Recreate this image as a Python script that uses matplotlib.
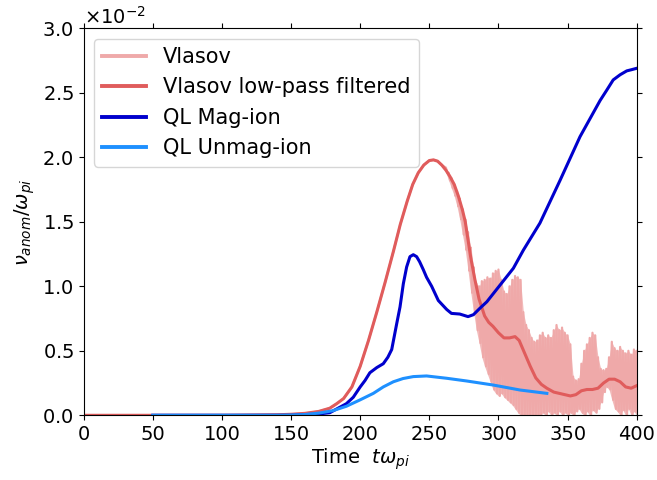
import numpy as np
import matplotlib
matplotlib.use("Agg")
import matplotlib.pyplot as plt

# filtered Vlasov collision rate (units of omega_pi)
t_filt = [0, 100, 140, 150, 160, 170, 178, 183, 188, 194, 200, 206, 212, 218,
          224, 229, 234, 238, 242, 246, 250, 253, 256, 259, 262, 265, 268, 271,
          274, 276, 278, 280, 283, 286, 290, 293, 296, 300, 304, 308, 312, 315,
          319, 323, 327, 331, 335, 340, 344, 348, 352, 356, 360, 364, 368, 372,
          376, 380, 384, 388, 392, 396, 400]
nu_filt = [0.0, 0.0, 0.004, 0.008, 0.015, 0.03, 0.055, 0.09, 0.13, 0.22, 0.38,
           0.58, 0.80, 1.03, 1.27, 1.48, 1.66, 1.79, 1.88, 1.94, 1.975, 1.98,
           1.97, 1.94, 1.90, 1.85, 1.79, 1.70, 1.59, 1.50, 1.36, 1.22, 1.05,
           0.90, 0.77, 0.72, 0.69, 0.64, 0.60, 0.60, 0.61, 0.58, 0.48, 0.38,
           0.29, 0.24, 0.21, 0.18, 0.17, 0.16, 0.15, 0.16, 0.19, 0.20, 0.20,
           0.21, 0.25, 0.28, 0.28, 0.26, 0.22, 0.21, 0.23]

# raw Vlasov oscillation extremes after saturation
t_raw = np.arange(262, 401, 2)
raw_hi = [1.92, 1.88, 1.84, 1.79, 1.74, 1.68, 1.60, 1.52, 1.42, 1.30,
          1.15, 1.02, 1.00, 1.04, 1.05, 1.07, 1.06, 1.10, 1.12, 1.13,
          1.05, 0.96, 0.94, 1.00, 1.05, 1.08, 1.07, 1.05, 0.80, 0.70,
          0.66, 0.60, 0.57, 0.58, 0.62, 0.64, 0.60, 0.62, 0.60, 0.66,
          0.70, 0.66, 0.68, 0.64, 0.62, 0.55, 0.30, 0.27, 0.28, 0.40,
          0.50, 0.55, 0.60, 0.64, 0.62, 0.45, 0.36, 0.35, 0.36, 0.45,
          0.57, 0.52, 0.50, 0.53, 0.50, 0.48, 0.50, 0.47, 0.51, 0.50]
raw_lo = [1.88, 1.82, 1.76, 1.70, 1.62, 1.52, 1.40, 1.28, 1.12, 0.95,
          0.80, 0.66, 0.56, 0.45, 0.38, 0.32, 0.26, 0.20, 0.17, 0.15,
          0.17, 0.14, 0.12, 0.10, 0.08, 0.05, 0.02, 0.0, 0.0, 0.0,
          0.0, 0.0, 0.0, 0.0, 0.0, 0.02, 0.0, 0.03, 0.0, 0.02,
          0.0, 0.03, 0.0, 0.02, 0.0, 0.02, 0.0, 0.03, 0.05, 0.02,
          0.0, 0.03, 0.0, 0.04, 0.02, 0.05, 0.10, 0.18, 0.22, 0.20,
          0.12, 0.05, 0.03, 0.0, 0.04, 0.0, 0.05, 0.0, 0.03, 0.0]

# quasilinear model, magnetized ions
t_mag = [50, 150, 160, 170, 178, 190, 195, 200, 203.5, 207, 212, 216.7, 220,
         222.8, 226.4, 228.8, 231.2, 233.6, 236, 238.4, 240.8, 243, 245.6,
         248, 251.7, 256.5, 262.6, 266, 272, 278, 281.9, 286.6, 291.6, 301.2,
         310.8, 318, 330, 344.5, 359, 373.5, 378.3, 383, 388, 392.8, 396.5,
         400]
nu_mag = [0.0, 0.0, 0.005, 0.01, 0.02, 0.09, 0.14, 0.22, 0.27, 0.33, 0.37,
          0.40, 0.45, 0.51, 0.71, 0.84, 1.02, 1.15, 1.23, 1.245, 1.23, 1.19,
          1.13, 1.07, 1.00, 0.89, 0.82, 0.79, 0.785, 0.765, 0.78, 0.83, 0.88,
          1.01, 1.14, 1.28, 1.49, 1.82, 2.16, 2.44, 2.52, 2.60, 2.64, 2.67,
          2.68, 2.69]

# quasilinear model, unmagnetized ions
t_unmag = [50, 140, 150, 160, 170, 180, 190, 200, 209.5, 216.7, 224, 231,
           238.4, 248, 262.6, 277, 296, 315.6, 335]
nu_unmag = [0.0, 0.0, 0.002, 0.006, 0.017, 0.035, 0.07, 0.12, 0.17, 0.22,
            0.26, 0.285, 0.30, 0.305, 0.287, 0.266, 0.235, 0.196, 0.17]

scale = 1e-2
c_raw = '#efa9a9'

# zigzag between the oscillation extremes, joined to the smooth rise
t_zig = np.column_stack([t_raw, t_raw + 1]).ravel()
nu_zig = np.column_stack([raw_hi, raw_lo]).ravel()
early = np.array(t_filt) < t_raw[0]
t_vl = np.concatenate([np.array(t_filt)[early], t_zig])
nu_vl = np.concatenate([np.array(nu_filt)[early], nu_zig])

fig = plt.figure(figsize=(6.57, 4.8), dpi=100)
ax = fig.add_axes([0.1274, 0.1348, 0.8417, 0.8062])

ax.fill_between(t_raw, np.array(raw_lo) * scale, np.array(raw_hi) * scale,
                color=c_raw, lw=0, alpha=0.8)
ax.plot(t_vl, nu_vl * scale, color=c_raw, lw=1.6, label='Vlasov')
ax.plot(t_filt, np.array(nu_filt) * scale, color='#e05c5c', lw=2.2,
        label='Vlasov low-pass filtered')
ax.plot(t_mag, np.array(nu_mag) * scale, color='#0000cd', lw=2.2,
        label='QL Mag-ion')
ax.plot(t_unmag, np.array(nu_unmag) * scale, color='#1e90ff', lw=2.2,
        label='QL Unmag-ion')

ax.set_xlim(0, 400)
ax.set_ylim(0, 0.03)
ax.set_xticks(np.arange(0, 401, 50))
ax.set_yticks(np.arange(0, 0.0301, 0.005))
ax.ticklabel_format(axis='y', style='sci', scilimits=(-2, -2), useMathText=True)
ax.yaxis.get_offset_text().set_fontsize(14)
ax.tick_params(labelsize=14, top=True, right=True, direction='out')

ax.set_xlabel(r'Time  $t\omega_{pi}$', fontsize=14, labelpad=2)
ax.set_ylabel(r'$\nu_{anom}/\omega_{pi}$', fontsize=14)

leg = ax.legend(loc='upper left', fontsize=15, handlelength=2.1)
for line in leg.get_lines():
    line.set_linewidth(2.8)

fig.savefig('out.png', dpi=100)
